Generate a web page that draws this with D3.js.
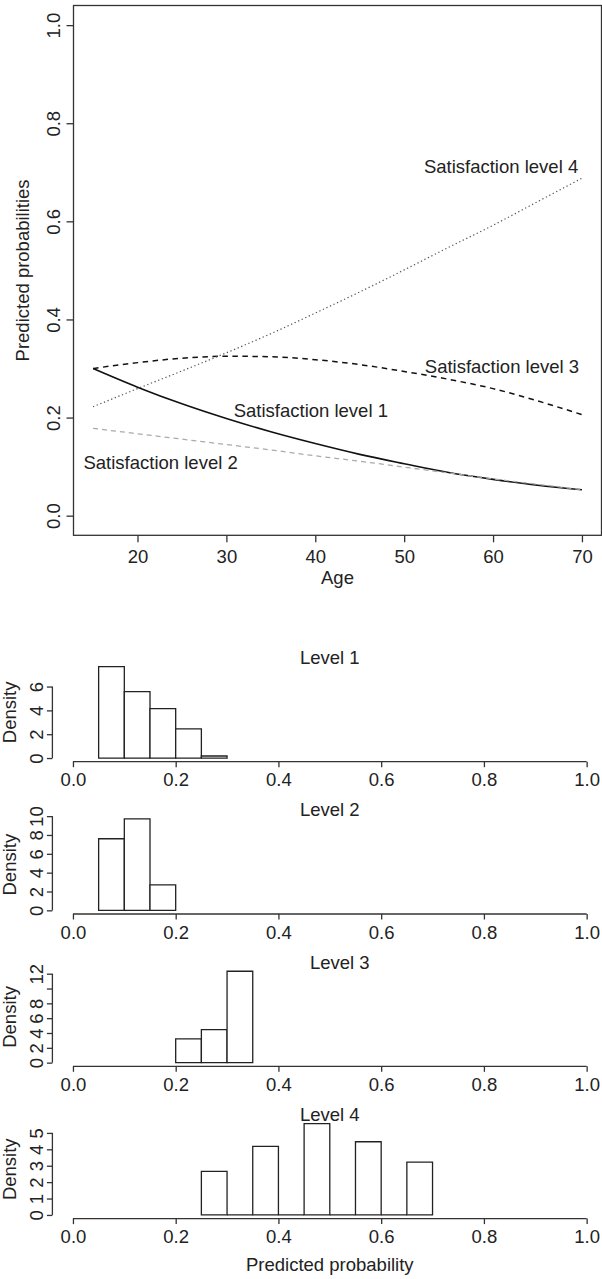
<!DOCTYPE html>
<html>
<head>
<meta charset="utf-8">
<script src="https://cdn.jsdelivr.net/npm/d3@7"></script>
<style>
  html, body { margin: 0; padding: 0; background: #fff; }
  svg { display: block; }
  text { font-family: "Liberation Sans", Arial, Helvetica, sans-serif; fill: #222; }
</style>
</head>
<body>
<svg id="chart" width="602" height="1279"></svg>
<script>
// ---------- Data: top panel (predicted probabilities by age) ----------
const ages   = [15, 20, 25, 30, 35, 40, 45, 50, 55, 60, 65, 70];
const level1 = [0.300, 0.262, 0.228, 0.198, 0.171, 0.147, 0.125, 0.106, 0.088, 0.074, 0.062, 0.053];
const level2 = [0.178, 0.167, 0.156, 0.145, 0.134, 0.122, 0.111, 0.099, 0.087, 0.075, 0.064, 0.053];
const level3 = [0.300, 0.312, 0.321, 0.325, 0.324, 0.318, 0.308, 0.294, 0.278, 0.259, 0.234, 0.206];
const level4 = [0.222, 0.259, 0.295, 0.332, 0.371, 0.413, 0.456, 0.501, 0.547, 0.592, 0.640, 0.688];
const seriesNames = ["Satisfaction level 1", "Satisfaction level 2", "Satisfaction level 3", "Satisfaction level 4"];
const labelAges   = [39.5, 22.6, 61.0, 60.9];
const labelProbs  = [0.215, 0.109, 0.305, 0.7115];
const ageTicks  = [20, 30, 40, 50, 60, 70];
const probTicks = [0.0, 0.2, 0.4, 0.6, 0.8, 1.0];

// ---------- Data: histograms ----------
const histTitles = ["Level 1", "Level 2", "Level 3", "Level 4"];
const histStarts = [
  [0.05, 0.10, 0.15, 0.20, 0.25],
  [0.05, 0.10, 0.15],
  [0.20, 0.25, 0.30],
  [0.25, 0.30, 0.35, 0.40, 0.45, 0.50, 0.55, 0.60, 0.65]
];
const histDensity = [
  [7.67, 5.57, 4.14, 2.44, 0.17],
  [7.60, 9.70, 2.70],
  [3.22, 4.46, 12.33],
  [2.66, 0, 4.18, 0, 5.57, 0, 4.46, 0, 3.22]
];
const binWidth = 0.05;
const densityTicks = [
  [0, 2, 4, 6],
  [0, 2, 4, 6, 8, 10],
  [0, 2, 4, 6, 8, 10, 12],
  [0, 1, 2, 3, 4, 5]
];
const densityTickLabels = [
  ["0", "2", "4", "6"],
  ["0", "2", "4", "6", "8", "10"],
  ["0", "2", "4", "6", "8", "", "12"],
  ["0", "1", "2", "3", "4", "5"]
];
const probAxisTicks = [0.0, 0.2, 0.4, 0.6, 0.8, 1.0];

// ---------- Layout / style ----------
const FS = 18.5;
const AX = "#333";
const svg = d3.select("#chart");

// ===== Top panel =====
const frame = { left: 73.5, right: 601.5, top: 5.5, bottom: 535.3 };
const x = d3.scaleLinear().domain([12.8, 72.2]).range([frame.left, frame.right]);
const y = d3.scaleLinear().domain([-0.04, 1.04]).range([frame.bottom, frame.top]);

const series = [level1, level2, level3, level4];
const styles = [
  { stroke: "#111", width: 1.6, dash: null },
  { stroke: "#aaa", width: 1.3, dash: "5,4" },
  { stroke: "#111", width: 1.5, dash: "5.5,4.5" },
  { stroke: "#555", width: 1.2, dash: "1.3,2.6" }
];
const line = d3.line().x(d => x(d[0])).y(d => y(d[1])).curve(d3.curveMonotoneX);
series.forEach((vals, i) => {
  const pts = ages.map((a, k) => [a, vals[k]]);
  svg.append("path")
    .datum(pts)
    .attr("d", line)
    .attr("fill", "none")
    .attr("stroke", styles[i].stroke)
    .attr("stroke-width", styles[i].width)
    .attr("stroke-dasharray", styles[i].dash);
});

seriesNames.forEach((name, i) => {
  svg.append("text")
    .attr("x", x(labelAges[i]))
    .attr("y", y(labelProbs[i]))
    .attr("dy", "0.35em")
    .attr("text-anchor", "middle")
    .attr("font-size", FS)
    .text(name);
});

// box
svg.append("rect")
  .attr("x", frame.left).attr("y", frame.top)
  .attr("width", frame.right - frame.left).attr("height", frame.bottom - frame.top)
  .attr("fill", "none").attr("stroke", AX).attr("stroke-width", 1.3);

// x axis
const gx = svg.append("g").attr("transform", `translate(0,${frame.bottom})`)
  .call(d3.axisBottom(x).tickValues(ageTicks).tickSize(7).tickPadding(7.5).tickFormat(d3.format("d")));
gx.select(".domain").remove();
gx.selectAll("line").attr("stroke", AX).attr("stroke-width", 1.3);
gx.selectAll("text").attr("font-size", FS).attr("fill", "#222").attr("font-family", null);

// y axis
const gy = svg.append("g").attr("transform", `translate(${frame.left},0)`)
  .call(d3.axisLeft(y).tickValues(probTicks).tickSize(7).tickFormat(d3.format(".1f")));
gy.select(".domain").remove();
gy.selectAll("line").attr("stroke", AX).attr("stroke-width", 1.3);
gy.selectAll("text")
  .attr("font-size", FS).attr("fill", "#222").attr("font-family", null)
  .attr("x", 0).attr("y", -20.2).attr("dy", "0.35em")
  .attr("text-anchor", "middle")
  .attr("transform", "rotate(-90)");

svg.append("text")
  .attr("x", x(42.5)).attr("y", 577.5).attr("dy", "0.35em")
  .attr("text-anchor", "middle").attr("font-size", FS).text("Age");
svg.append("text")
  .attr("transform", `translate(23,${(frame.top + frame.bottom) / 2}) rotate(-90)`)
  .attr("dy", "0.35em")
  .attr("text-anchor", "middle").attr("font-size", FS).text("Predicted probabilities");

// ===== Histograms =====
const hx = d3.scaleLinear().domain([-0.04, 1.04]).range([52.4, 607.2]);
const panelTop0 = 663, panelStep = 152.3, panelH = 98.7;

histTitles.forEach((title, i) => {
  const pTop = panelTop0 + i * panelStep;
  const pBot = pTop + panelH;
  const ymax = d3.max(histDensity[i]);
  const hy = d3.scaleLinear().domain([-0.04 * ymax, 1.04 * ymax]).range([pBot, pTop]);
  const g = svg.append("g");

  // bars (paths, so that empty bins still show as a baseline segment)
  g.selectAll("path.bar")
    .data(histStarts[i].map((s, k) => ({ s: s, d: histDensity[i][k] })))
    .enter().append("path")
    .attr("class", "bar")
    .attr("d", d => {
      const x0 = hx(d.s), x1 = hx(d.s + binWidth), y0 = hy(0), y1 = hy(d.d);
      return `M${x0},${y0}V${y1}H${x1}V${y0}Z`;
    })
    .attr("fill", "#fff")
    .attr("stroke", "#222")
    .attr("stroke-width", 1.3)
    .attr("stroke-linejoin", "miter");

  // x axis
  const ax = g.append("g").attr("transform", `translate(0,${pBot})`)
    .call(d3.axisBottom(hx).tickValues(probAxisTicks).tickSize(5.5).tickSizeOuter(0).tickPadding(6).tickFormat(d3.format(".1f")));
  ax.select(".domain").attr("d", `M${hx(0)},0H${hx(1)}`).attr("stroke", AX).attr("stroke-width", 1.3);
  ax.selectAll("line").attr("stroke", AX).attr("stroke-width", 1.3);
  ax.selectAll("text").attr("font-size", FS).attr("fill", "#222").attr("font-family", null);

  // y axis
  const ticks = densityTicks[i];
  const labs = densityTickLabels[i];
  const ay = g.append("g").attr("transform", `translate(${hx(-0.04)},0)`)
    .call(d3.axisLeft(hy).tickValues(ticks).tickSize(5.5).tickSizeOuter(0)
      .tickFormat((d, k) => labs[k]));
  ay.select(".domain").attr("d", `M0,${hy(ticks[0])}V${hy(ticks[ticks.length - 1])}`)
    .attr("stroke", AX).attr("stroke-width", 1.3);
  ay.selectAll("line").attr("stroke", AX).attr("stroke-width", 1.3);
  ay.selectAll("text")
    .attr("font-size", FS).attr("fill", "#222").attr("font-family", null)
    .attr("x", 0).attr("y", -15.7).attr("dy", "0.35em")
    .attr("text-anchor", "middle")
    .attr("transform", "rotate(-90)");

  // Density label
  g.append("text")
    .attr("transform", `translate(10,${(pTop + pBot) / 2}) rotate(-90)`)
    .attr("dy", "0.35em").attr("text-anchor", "middle").attr("font-size", FS)
    .text("Density");

  // title
  g.append("text")
    .attr("x", hx(0.5) + (i === 2 ? 10 : 0)).attr("y", pTop - 5.5).attr("dy", "0.35em")
    .attr("text-anchor", "middle").attr("font-size", FS)
    .text(title);
});

svg.append("text")
  .attr("x", hx(0.5)).attr("y", 1265).attr("dy", "0.35em")
  .attr("text-anchor", "middle").attr("font-size", FS)
  .text("Predicted probability");
</script>
</body>
</html>
